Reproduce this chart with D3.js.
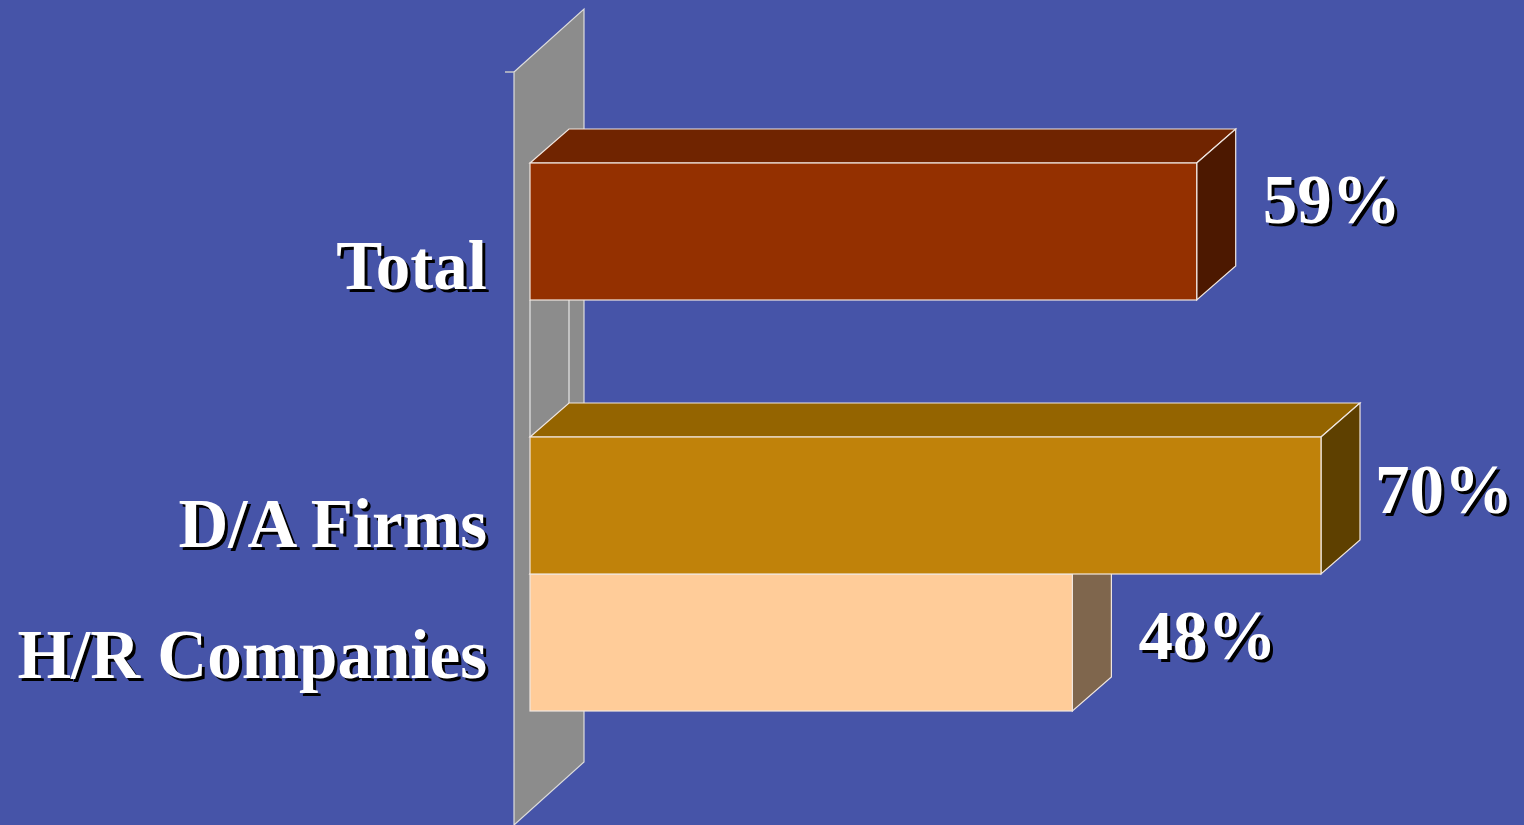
<!DOCTYPE html>
<html>
<head>
<meta charset="utf-8">
<script src="https://cdn.jsdelivr.net/npm/d3@7"></script>
<style>
  html, body { margin: 0; padding: 0; background: #4654A8; }
  svg { display: block; }
  text { font-family: "Liberation Serif", "Times New Roman", serif; font-weight: bold; }
</style>
</head>
<body>
<svg id="chart" width="1524" height="825"></svg>
<script>
// Share of respondents, by group
const categories = ["Total", "D/A Firms", "H/R Companies"];
const values = [59, 70, 48];
const groups = ["Total", "Firms"];
const categoryGroup = ["Total", "Firms", "Firms"];
const valueLabels = ["59%", "70%", "48%"];

const frontColors = ["#943000", "#C0820A", "#FFCC99"];
const topColors   = ["#702400", "#946400", "#C09A73"];
const sideColors  = ["#4C1800", "#5E4000", "#7F664D"];

const W = 1524, H = 825;
const svg = d3.select("#chart");

// 3D projection offsets
const depth = { dx: 39, dy: -34 };
const wallDepth = { dx: 70, dy: -63 };

const x = d3.scaleLinear().domain([0, 100]).range([530, 1660]);
const yGroup = d3.scaleBand().domain(groups).range([163, 711]).padding(0);
const slotCount = 2;
const slotH = yGroup.bandwidth() / slotCount;

const rows = categories.map((c, i) => {
  const g = categoryGroup[i];
  const slot = categoryGroup.slice(0, i).filter(k => k === g).length;
  const y0 = yGroup(g) + slot * slotH;
  return { name: c, value: values[i], label: valueLabels[i], i, y0, y1: y0 + slotH };
});

// Back wall (category axis plane)
const wallX = 514, wallTop = 72, wallBottom = H;
const wallPts = [
  [wallX, wallTop],
  [wallX + wallDepth.dx, wallTop + wallDepth.dy],
  [wallX + wallDepth.dx, wallBottom + wallDepth.dy],
  [wallX, wallBottom]
];
svg.append("polygon")
  .attr("points", wallPts.map(p => p.join(",")).join(" "))
  .attr("fill", "#8C8C8C")
  .attr("stroke", "#DCDCDC")
  .attr("stroke-width", 1.2);

// axis tick at the top of the wall
svg.append("line")
  .attr("x1", wallX - 9).attr("x2", wallX)
  .attr("y1", wallTop).attr("y2", wallTop)
  .attr("stroke", "#C8C8C8").attr("stroke-width", 1.5);

// edges of the empty slot between the groups
const gapTop = rows[0].y1;
const gapBottom = rows[1].y0;
svg.append("line")
  .attr("x1", x(0)).attr("x2", x(0))
  .attr("y1", gapTop).attr("y2", gapBottom)
  .attr("stroke", "#E6E6E6").attr("stroke-width", 1.2);
svg.append("line")
  .attr("x1", x(0) + depth.dx).attr("x2", x(0) + depth.dx)
  .attr("y1", gapTop).attr("y2", gapBottom + depth.dy)
  .attr("stroke", "#E6E6E6").attr("stroke-width", 1.2);

// Bars, drawn bottom-up so upper fronts cover lower tops
const poly = pts => pts.map(p => p.join(",")).join(" ");
const barG = svg.append("g");
rows.slice().reverse().forEach(r => {
  const x0 = x(0), x1 = x(r.value);
  const g = barG.append("g");
  g.append("polygon")
    .attr("points", poly([[x0, r.y0], [x0 + depth.dx, r.y0 + depth.dy], [x1 + depth.dx, r.y0 + depth.dy], [x1, r.y0]]))
    .attr("fill", topColors[r.i]).attr("stroke", "#F0E6E0").attr("stroke-width", 1.2);
  g.append("polygon")
    .attr("points", poly([[x1, r.y0], [x1 + depth.dx, r.y0 + depth.dy], [x1 + depth.dx, r.y1 + depth.dy], [x1, r.y1]]))
    .attr("fill", sideColors[r.i]).attr("stroke", "#F0E6E0").attr("stroke-width", 1.2);
  g.append("rect")
    .attr("x", x0).attr("y", r.y0)
    .attr("width", x1 - x0).attr("height", r.y1 - r.y0)
    .attr("fill", frontColors[r.i]).attr("stroke", "#F0E6E0").attr("stroke-width", 1.2);
});

// Text with a drop shadow; returns the group so it can be shifted afterwards
function shadowText(sel, txt, tx, ty, anchor) {
  const g = sel.append("g");
  g.append("text").attr("x", tx + 3).attr("y", ty + 3)
    .attr("text-anchor", anchor).attr("font-size", 69).attr("fill", "#000").text(txt);
  g.append("text").attr("x", tx).attr("y", ty)
    .attr("text-anchor", anchor).attr("font-size", 69).attr("fill", "#FFFFFF").text(txt);
  return g;
}

// label baseline nudges relative to each bar's middle
const valueDy = [-9, 7, 16];
const nameDy = [57, 41, 35];
const rightLimit = W - 8;

rows.forEach(r => {
  const mid = (r.y0 + r.y1) / 2;
  const g = shadowText(svg, r.label, x(r.value) + depth.dx + 27, mid + valueDy[r.i], "start");
  const box = g.node().getBBox();
  const over = box.x + box.width - rightLimit;
  if (over > 0) g.attr("transform", `translate(${-over},0)`);
  shadowText(svg, r.name, 487, mid + nameDy[r.i], "end");
});
</script>
</body>
</html>
